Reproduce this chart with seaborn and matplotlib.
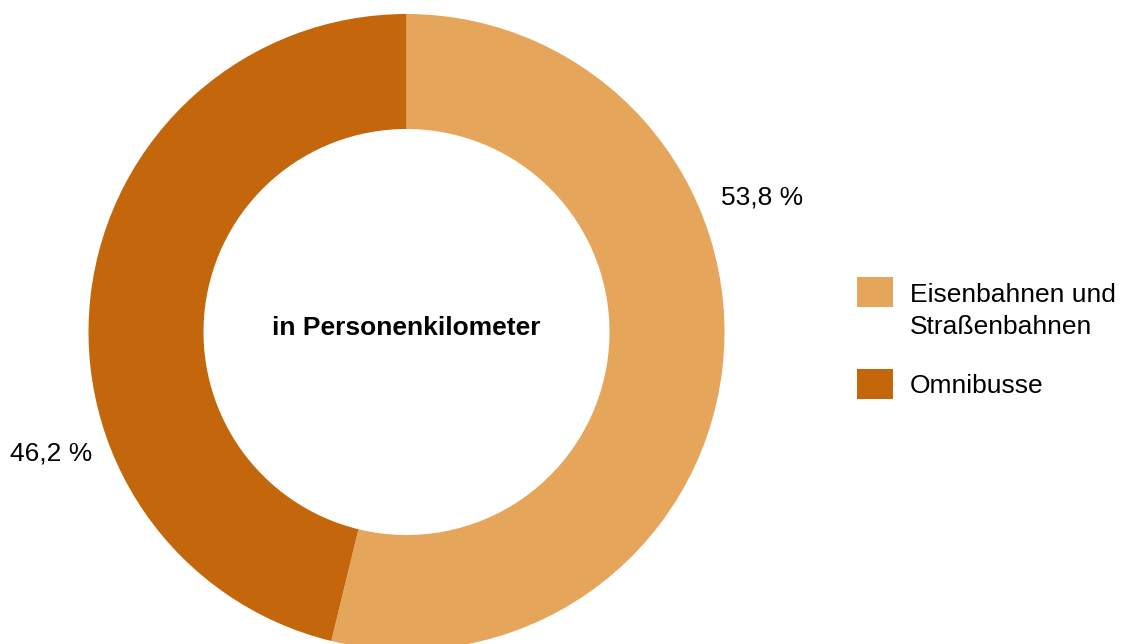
import matplotlib
matplotlib.use("Agg")
import matplotlib.pyplot as plt
from matplotlib.patches import Rectangle
import seaborn as sns

categories = ["Eisenbahnen und\nStraßenbahnen", "Omnibusse"]
shares = [53.8, 46.2]
value_labels = ["53,8 %", "46,2 %"]
center_title = "in Personenkilometer"
colors = ["#E5A65C", "#C4670C"]

sns.set_theme(style="white")
plt.rcParams["font.family"] = ["Liberation Sans", "DejaVu Sans"]

W, H = 1124, 644
FS = 19
fig = plt.figure(figsize=(W / 100, H / 100), dpi=100)
ax = fig.add_axes([0, 0, 1, 1])

cx, cy = 406.5, H - 332
R, r = 318, 203
wedges, _ = ax.pie(shares, colors=colors, startangle=90, counterclock=False,
                   center=(cx, cy), radius=R, frame=True,
                   wedgeprops=dict(width=R - r, linewidth=0))
ax.set_xlim(0, W)
ax.set_ylim(0, H)
ax.set_aspect("equal")
ax.axis("off")

ax.text(cx, H - 328, center_title, ha="center", va="center",
        fontsize=FS, fontweight="bold", color="black")
ax.text(762, H - 197, value_labels[0], ha="center", va="center", fontsize=FS, color="black")
ax.text(51, H - 453, value_labels[1], ha="center", va="center", fontsize=FS, color="black")

# legend (swatch aligned with first text line)
legend_tops = [277, 369]
for top, label, col in zip(legend_tops, categories, colors):
    ax.add_patch(Rectangle((857, H - top - 30), 36, 30, facecolor=col, edgecolor="none"))
    if "\n" in label:
        ax.text(910, H - top - 6, label, ha="left", va="top", fontsize=FS,
                color="black", linespacing=1.41)
    else:
        ax.text(910, H - top - 17, label, ha="left", va="center", fontsize=FS,
                color="black")

fig.savefig("out.png", dpi=100)
